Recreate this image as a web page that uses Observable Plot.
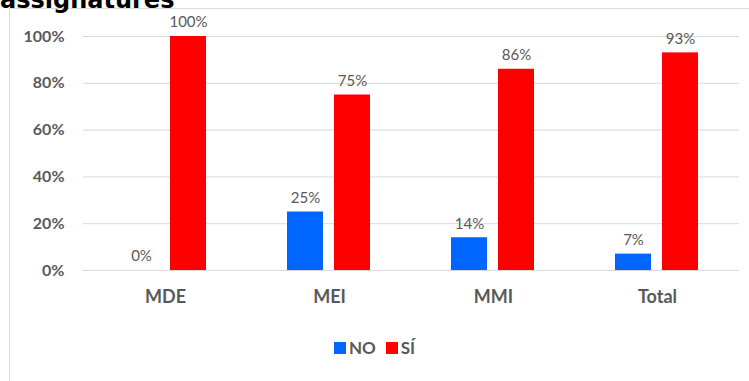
<!DOCTYPE html>
<html>
<head>
<meta charset="utf-8">
<script src="https://cdn.jsdelivr.net/npm/d3@7"></script>
<script src="https://cdn.jsdelivr.net/npm/@observablehq/plot@0.6"></script>
<style>
  html, body { margin: 0; padding: 0; background: #fff; overflow: hidden; }
  #wrap { position: relative; width: 749px; height: 381px; overflow: hidden; font-family: Lato, "Open Sans", sans-serif; }
  #title { position: absolute; left: 0; top: -12px; font-family: "DejaVu Sans", sans-serif; font-weight: bold; font-size: 24px; line-height: 24px; color: #000; white-space: nowrap; }
  #frame { position: absolute; left: 9px; top: 8px; width: 760px; height: 420px; border: 1px solid #d9d9d9; }
  #chart { position: absolute; left: 0; top: 0; }
  #legend { position: absolute; left: 0; top: 337px; width: 749px; display: flex; justify-content: center; align-items: center; font-weight: bold; font-size: 17px; color: #595959; }
  .item { display: flex; align-items: center; margin: 0 5px; }
  .sw { width: 12px; height: 12px; display: inline-block; margin-right: 3px; }
</style>
</head>
<body>
<div id="wrap">
  <div id="frame"></div>
  <div id="title">assignatures</div>
  <div id="chart"></div>
  <div id="legend"></div>
</div>
<script>
const categories = ["MDE", "MEI", "MMI", "Total"];
const series = ["NO", "SÍ"];
const noValues = [0.00, 0.25, 0.14, 0.07];
const siValues = [1.00, 0.75, 0.86, 0.93];
const colors = ["#0066ff", "#ff0000"];
const yTicks = [0, 0.2, 0.4, 0.6, 0.8, 1.0];

const data = [];
categories.forEach((c, i) => {
  data.push({cat: c, resp: series[0], v: noValues[i]});
  data.push({cat: c, resp: series[1], v: siValues[i]});
});

const plot = Plot.plot({
  width: 749,
  height: 320,
  marginLeft: 82,
  marginRight: 9,
  marginTop: 36,
  marginBottom: 50,
  style: { fontFamily: "Lato, 'Open Sans', sans-serif", background: "transparent" },
  fx: { domain: categories, padding: 0, label: null, axis: null },
  x: { domain: series, axis: null, paddingInner: 0.23, paddingOuter: 0.83 },
  y: { domain: [0, 1], axis: null },
  color: { domain: series, range: colors },
  marks: [
    Plot.gridY(yTicks, { stroke: "#d9d9d9", strokeOpacity: 1, strokeWidth: 1 }),
    Plot.axisY(yTicks, {
      tickSize: 0, tickPadding: 19, fontSize: 16, fontWeight: "bold", fill: "#595959",
      tickFormat: d => Math.round(d * 100) + "%", label: null
    }),
    Plot.axisFx({
      anchor: "bottom", tickSize: 0, tickPadding: 20, fontSize: 18, fontWeight: "bold",
      fill: "#595959", label: null
    }),
    Plot.barY(data, { fx: "cat", x: "resp", y: "v", fill: "resp" }),
    Plot.text(data, {
      fx: "cat", x: "resp", y: "v", text: d => Math.round(d.v * 100) + "%",
      dy: -14, fontSize: 15, fill: "#595959"
    })
  ]
});
document.getElementById("chart").appendChild(plot);

const legend = document.getElementById("legend");
series.forEach((s, i) => {
  const item = document.createElement("span");
  item.className = "item";
  const sw = document.createElement("span");
  sw.className = "sw";
  sw.style.background = colors[i];
  item.appendChild(sw);
  item.appendChild(document.createTextNode(s));
  legend.appendChild(item);
});
</script>
</body>
</html>
